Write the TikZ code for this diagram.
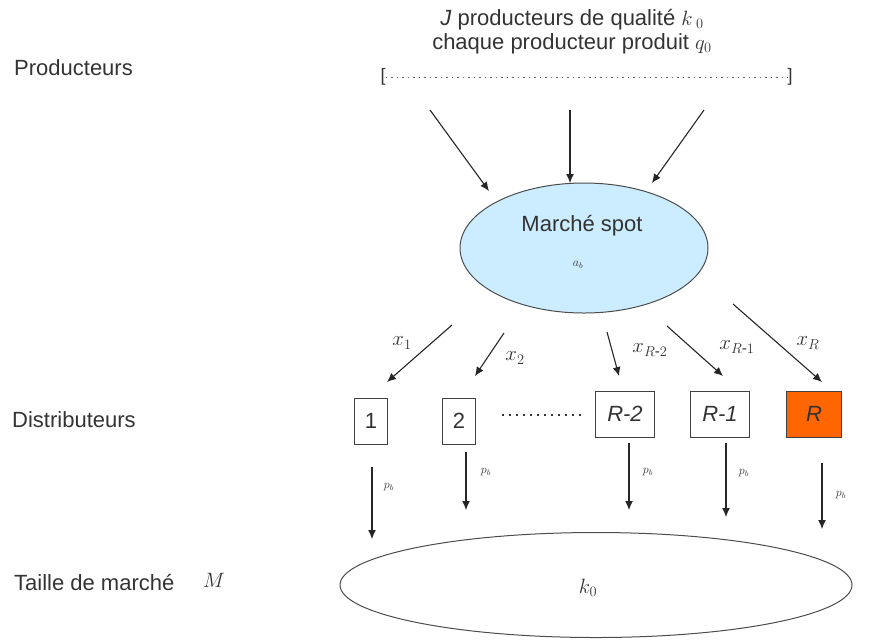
\documentclass[tikz,border=0pt]{standalone}
\usepackage{amsmath}
\usepackage{fontspec}
\setmainfont{Liberation Sans}
\usetikzlibrary{shapes.geometric,arrows.meta}
\definecolor{spotblue}{HTML}{CCECFF}
\definecolor{distorange}{HTML}{FF6600}

\begin{document}
\begin{tikzpicture}[x=1pt,y=-1pt,
  every node/.style={inner sep=0pt,text=black!80,font=\fontsize{22}{24}\selectfont},
  arr/.style={-{Latex[length=9pt,width=8pt]},line width=1.1pt,black!85},
  distbox/.style={draw,line width=1pt,black!75,text=black!80,minimum height=46pt},
  tiny/.style={font=\fontsize{12}{14}\selectfont}]
\useasboundingbox (0,0) rectangle (875,641);
% niveaux
\node [anchor=west] (prodlbl) at (14,68) {Producteurs};
\node [anchor=west] (distlbl) at (12,420) {Distributeurs};
\node [anchor=west] (taillelbl) at (14,582) {Taille de march\'e};
\node (mlbl) at (214,580) {$M$};
% producteurs
\node (prodtxt) at (572,32) [align=center] {\textit{J} producteurs de qualit\'e $k_{\;0}$\\chaque producteur produit $q_0$};
\node [font=\fontsize{18}{20}\selectfont] (lbrack) at (383,77) {[};
\node [font=\fontsize{18}{20}\selectfont] (rbrack) at (790,77) {]};
\draw [black!60,line width=1pt,dash pattern=on 1.5pt off 4pt] (lbrack.east) -- (rbrack.west);
% marche spot
\node [ellipse,draw,line width=1pt,black!70,fill=spotblue,minimum width=248pt,minimum height=130pt] (spot) at (584,248) {};
\node (spottxt) at (582,226) {March\'e spot};
\node [tiny] (ab) at (578,265) {$a_b$};
\coordinate (p1) at (430,110);
\coordinate (p2) at (570,110);
\coordinate (p3) at (704,110);
\coordinate (s1) at (489,191);
\coordinate (s2) at (570,183);
\coordinate (s3) at (652,183);
\draw [arr] (p1) -- (s1);
\draw [arr] (p2) -- (s2);
\draw [arr] (p3) -- (s3);
% distributeurs
\node [distbox,minimum width=33pt] (d1) at (371,421) {1};
\node [distbox,minimum width=33pt] (d2) at (459,421) {2};
\node [distbox,minimum width=59pt] (dR2) at (625,414) {\textit{R-2}};
\node [distbox,minimum width=59pt] (dR1) at (720,414) {\textit{R-1}};
\node [distbox,minimum width=55pt,fill=distorange] (dR) at (814,414) {\textit{R}};
\coordinate (dotl) at (502,415);
\coordinate (dotr) at (585,415);
\draw [black!80,line width=2pt,dash pattern=on 2pt off 5pt] (dotl) -- (dotr);
\coordinate (x1a) at (452,325);
\coordinate (x1b) at (387,382);
\coordinate (x2a) at (504,333);
\coordinate (x2b) at (475,376);
\coordinate (x3a) at (607,332);
\coordinate (x3b) at (619,376);
\coordinate (x4a) at (667,326);
\coordinate (x4b) at (723,376);
\coordinate (x5a) at (733,304);
\coordinate (x5b) at (822,382);
\draw [arr] (x1a) -- (x1b);
\draw [arr] (x2a) -- (x2b);
\draw [arr] (x3a) -- (x3b);
\draw [arr] (x4a) -- (x4b);
\draw [arr] (x5a) -- (x5b);
\node (lx1) at (402,343) {$x_1$};
\node (lx2) at (515,358) {$x_2$};
\node (lx3) at (650,350) {$x_{R\text{-}2}$};
\node (lx4) at (737,347) {$x_{R\text{-}1}$};
\node (lx5) at (808,343) {$x_R$};
% taille de marche
\node [ellipse,draw,line width=1pt,black!70,minimum width=512pt,minimum height=105pt] (taille) at (596,585) {};
\node (k0) at (588,588) {$k_0$};
\coordinate (q1a) at (372,467);
\coordinate (q1b) at (372,539);
\coordinate (q2a) at (466,452);
\coordinate (q2b) at (466,510);
\coordinate (q3a) at (629,443);
\coordinate (q3b) at (629,510);
\coordinate (q4a) at (726,443);
\coordinate (q4b) at (726,517);
\coordinate (q5a) at (822,463);
\coordinate (q5b) at (822,529);
\draw [arr] (q1a) -- (q1b);
\draw [arr] (q2a) -- (q2b);
\draw [arr] (q3a) -- (q3b);
\draw [arr] (q4a) -- (q4b);
\draw [arr] (q5a) -- (q5b);
\node [tiny] (pb1) at (389,487) {$p_b$};
\node [tiny] (pb2) at (486,472) {$p_b$};
\node [tiny] (pb3) at (648,472) {$p_b$};
\node [tiny] (pb4) at (744,473) {$p_b$};
\node [tiny] (pb5) at (841,495) {$p_b$};
\end{tikzpicture}
\end{document}
